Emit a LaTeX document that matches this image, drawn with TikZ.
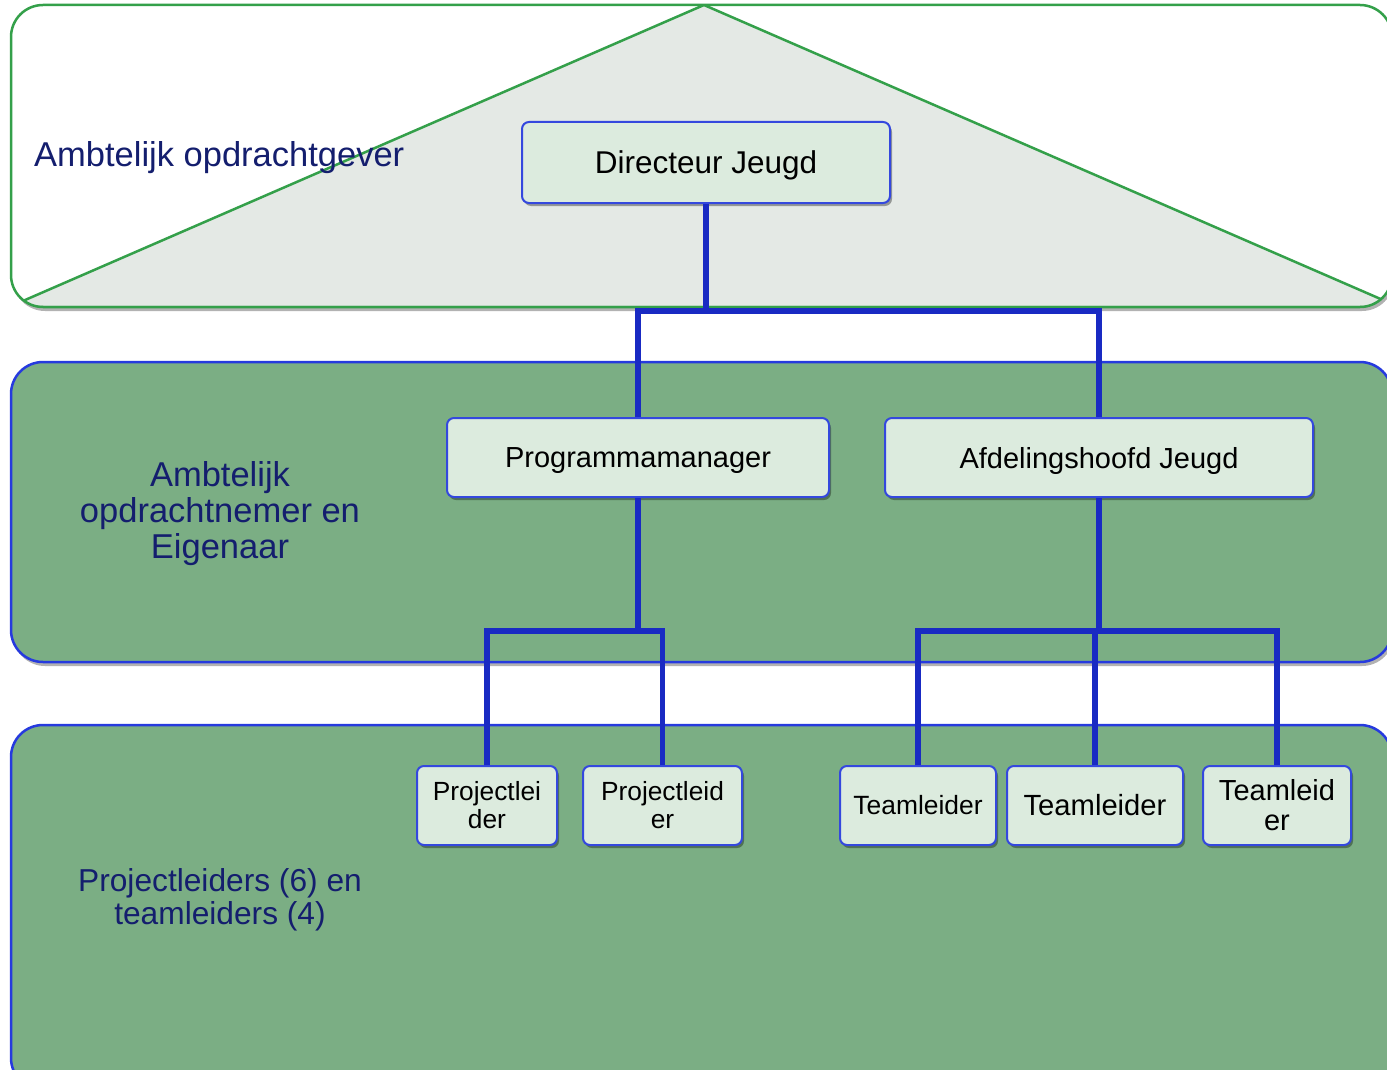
\documentclass[tikz,border=0pt]{standalone}
\usepackage{fontspec}
\setmainfont{Liberation Sans}
\usetikzlibrary{shadows}
\definecolor{bandgreen}{RGB}{123,174,132}
\definecolor{bandblue}{RGB}{38,58,222}
\definecolor{topgreen}{RGB}{52,160,74}
\definecolor{trifill}{RGB}{228,233,229}
\definecolor{boxfill}{RGB}{220,235,222}
\definecolor{boxblue}{RGB}{52,72,222}
\definecolor{linkblue}{RGB}{25,42,195}
\definecolor{navy}{RGB}{20,30,110}
\tikzset{
  bandshadow/.style={drop shadow={shadow xshift=2pt,shadow yshift=-4pt,opacity=0.3,fill=black}},
  orgbox/.style={draw=boxblue,line width=2pt,fill=boxfill,rounded corners=7pt,align=center,inner sep=0pt,
    drop shadow={shadow xshift=2pt,shadow yshift=-3pt,opacity=0.35,fill=black}},
  oneline/.style={text depth=0pt},
  link/.style={draw=linkblue,line width=5.5pt},
  bandlabel/.style={text=navy,align=center,inner sep=0pt},
}
\begin{document}
\begin{tikzpicture}[x=1pt,y=-1pt]
\useasboundingbox (0,0) rectangle (1387,1070);
% band 1
\path[fill=white,rounded corners=32pt,bandshadow] (11,5) rectangle (1392,307);
\begin{scope}
  \clip[rounded corners=32pt] (11,5) rectangle (1392,307);
  \path[fill=trifill,draw=topgreen,line width=2.5pt,line join=round] (704,5) -- (9,307) -- (1399,307) -- cycle;
\end{scope}
\draw[topgreen,line width=2.5pt,rounded corners=32pt] (11,5) rectangle (1392,307);
% bands 2 and 3
\path[fill=bandgreen,draw=bandblue,line width=2.5pt,rounded corners=32pt,bandshadow] (11,362) rectangle (1392,662);
\path[fill=bandgreen,draw=bandblue,line width=2.5pt,rounded corners=32pt,bandshadow] (11,725) rectangle (1392,1090);
% band labels
\node[bandlabel,anchor=west,font=\fontsize{34.5}{36}\selectfont] (lab1) at (34,158) {Ambtelijk opdrachtgever};
\node[bandlabel,font=\fontsize{34.5}{36}\selectfont] (lab2) at (220,514) {Ambtelijk\\opdrachtnemer en\\Eigenaar};
\node[bandlabel,font=\fontsize{31.7}{33}\selectfont] (lab3) at (220,900) {Projectleiders (6) en\\teamleiders (4)};
% boxes
\node[orgbox,oneline,minimum width=368pt,minimum height=81pt,font=\fontsize{31.5}{33}\selectfont] (dir) at (706,162.5) {Directeur Jeugd};
\node[orgbox,oneline,minimum width=382pt,minimum height=79pt,font=\fontsize{29}{31}\selectfont] (pm) at (638,457.5) {Programmamanager};
\node[orgbox,oneline,minimum width=428pt,minimum height=79pt,font=\fontsize{29}{31}\selectfont] (afd) at (1099,457.5) {Afdelingshoofd Jeugd};
\node[orgbox,minimum width=140pt,minimum height=79pt,font=\fontsize{26.3}{28}\selectfont] (pl1) at (487,805.5) {Projectlei\\der};
\node[orgbox,minimum width=159pt,minimum height=79pt,font=\fontsize{26.3}{28}\selectfont] (pl2) at (662.5,805.5) {Projectleid\\er};
\node[orgbox,minimum width=156pt,minimum height=79pt,font=\fontsize{26.4}{28}\selectfont] (tl1) at (918,805.5) {Teamleider};
\node[orgbox,minimum width=176pt,minimum height=79pt,font=\fontsize{29.2}{31}\selectfont] (tl2) at (1095,805.5) {Teamleider};
\node[orgbox,minimum width=148pt,minimum height=79pt,font=\fontsize{29}{30}\selectfont] (tl3) at (1277,805.5) {Teamleid\\er};
% junctions
\coordinate (j1) at (706,311);
\coordinate (j2) at (638,631);
\coordinate (j3) at (1099,631);
% connectors
\draw[link] (dir.south) -- (j1);
\draw[link] (pm.north) |- (j1) -| (afd.north);
\draw[link] (pm.south) -- (j2);
\draw[link] (pl1.north) |- (j2) -| (pl2.north);
\draw[link] (afd.south) -- (j3);
\draw[link] (tl1.north) |- (j3) -| (tl3.north);
\draw[link] (tl2.north) -- (tl2.north |- j3);
\end{tikzpicture}
\end{document}
